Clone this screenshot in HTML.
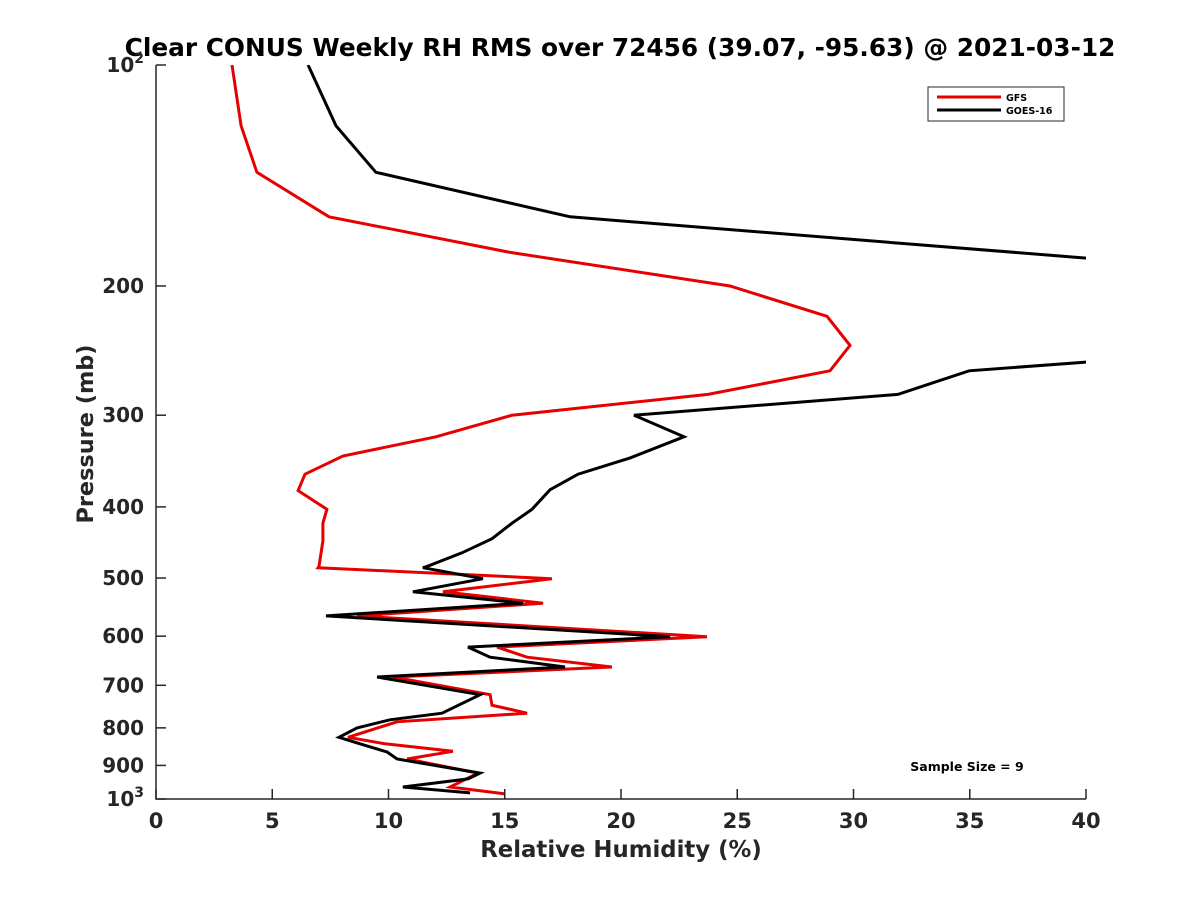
<!DOCTYPE html>
<html><head><meta charset="utf-8"><style>
html,body{margin:0;padding:0;background:#fff;}
svg{display:block;font-family:"DejaVu Sans","Liberation Sans",sans-serif;}
</style></head><body>
<svg id="chart" width="1200" height="900" viewBox="0 0 1200 900">
<rect width="1200" height="900" fill="#fff"/>
<text x="620" y="56" text-anchor="middle" font-size="24.8" font-weight="bold" fill="#000">Clear CONUS Weekly RH RMS over 72456 (39.07, -95.63) @ 2021-03-12</text>
<defs><clipPath id="plotclip"><rect x="156" y="65" width="930" height="734"/></clipPath></defs>
<g id="series" clip-path="url(#plotclip)"></g>
<g id="axes"></g>
<text x="621" y="857" text-anchor="middle" font-size="22.8" font-weight="bold" fill="#262626">Relative Humidity (%)</text>
<text transform="translate(93,434) rotate(-90)" text-anchor="middle" font-size="22.4" font-weight="bold" fill="#262626">Pressure (mb)</text>
<g>
<rect x="928" y="87" width="136" height="34" fill="#fff" stroke="#262626" stroke-width="1"/>
<line x1="937" y1="97" x2="1001" y2="97" stroke="#e60000" stroke-width="3"/>
<text x="1006" y="101" font-size="9.5" font-weight="bold">GFS</text>
<line x1="937" y1="110" x2="1001" y2="110" stroke="#000" stroke-width="3"/>
<text x="1006" y="114" font-size="9.5" font-weight="bold">GOES-16</text>
</g>
<text x="967" y="771" text-anchor="middle" font-size="12.5" font-weight="bold">Sample Size = 9</text>
</svg>
<script>
const xTicks = [0,5,10,15,20,25,30,35,40];
const yTicks = [100,200,300,400,500,600,700,800,900,1000];
const yTickLabels = ["10²","200","300","400","500","600","700","800","900","10³"];
const gfsPressure = [100,121,140,161,180,200,220,241,261,281,300,321,341,361,380,403,421,445,482,484,501,522,541,563,601,621,641,661,682,721,745,764,785,824,841,861,882,922,963,984];
const gfsRH = [3.27,3.66,4.34,7.44,15.23,24.69,28.86,29.85,28.99,23.74,15.31,12.04,8.04,6.41,6.11,7.35,7.18,7.18,7.01,6.97,17.03,12.34,16.65,8.65,23.70,14.67,15.96,19.61,10.19,14.37,14.45,15.96,10.37,8.26,9.85,12.77,10.80,13.85,12.65,15.01];
const goesPressure = [100,121,140,161,200,241,254,261,281,300,321,343,361,379,403,421,442,462,482,484,501,522,541,563,601,621,641,661,682,721,764,780,800,824,841,863,882,922,939,963,981];
const goesRH = [6.54,7.74,9.46,17.81,55,55,40,34.97,31.91,20.56,22.71,20.39,18.15,16.95,16.17,15.31,14.45,13.16,11.66,11.48,14.06,11.05,15.78,7.31,22.11,13.42,14.37,17.59,9.51,13.94,12.30,10.06,8.65,7.87,8.77,9.94,10.37,13.94,13.42,10.62,13.51];

const NS='http://www.w3.org/2000/svg';
const X0=156,X1=1086,Y0=65,Y1=799;
function xs(v){return X0+(v-0)/(40-0)*(X1-X0);}
function ys(p){return Y0+(Math.log10(p)-2)*(Y1-Y0);}
function mk(tag,attrs){const e=document.createElementNS(NS,tag);for(const k in attrs)e.setAttribute(k,attrs[k]);return e;}
const axes=document.getElementById('axes');
const series=document.getElementById('series');

function drawLine(P,R,color,name){
  const pts=P.map((p,i)=>xs(R[i]).toFixed(1)+','+ys(p).toFixed(1)).join(' ');
  const pl=mk('polyline',{points:pts,fill:'none',stroke:color,'stroke-width':3,'stroke-linejoin':'miter'});
  
  
  series.appendChild(pl);
}
drawLine(gfsPressure,gfsRH,'#e60000','gfs-line');
drawLine(goesPressure,goesRH,'#000','goes-16-line');

const ax=mk('path',{d:`M${X0},${Y0}V${Y1}H${X1}`,fill:'none',stroke:'#262626','stroke-width':1.5});


axes.appendChild(ax);
xTicks.forEach(v=>{
  const x=xs(v);
  const t=mk('line',{x1:x,y1:Y1,x2:x,y2:Y1-10,stroke:'#262626','stroke-width':1.5});
  
  
  axes.appendChild(t);
  const l=mk('text',{x:x,y:Y1+29,'text-anchor':'middle','font-size':21,'font-weight':'bold',fill:'#262626'});
  l.textContent=v;
  
  
  axes.appendChild(l);
});
yTicks.forEach((p,i)=>{
  const y=ys(p);
  const t=mk('line',{x1:X0,y1:y,x2:X0+10,y2:y,stroke:'#262626','stroke-width':1.5});
  
  
  axes.appendChild(t);
  const l=mk('text',{x:X0-12,y:y+7,'text-anchor':'end','font-size':20,'font-weight':'bold',fill:'#262626'});
  const s=yTickLabels[i];
  if(s.length===3 && (s[2]==='²'||s[2]==='³')){
    l.textContent='10';
    const sup=mk('tspan',{'font-size':14,dy:-9});
    sup.textContent=s[2]==='²'?'2':'3';
    l.appendChild(sup);
  } else l.textContent=s;
  
  
  axes.appendChild(l);
});
</script>
</body></html>
